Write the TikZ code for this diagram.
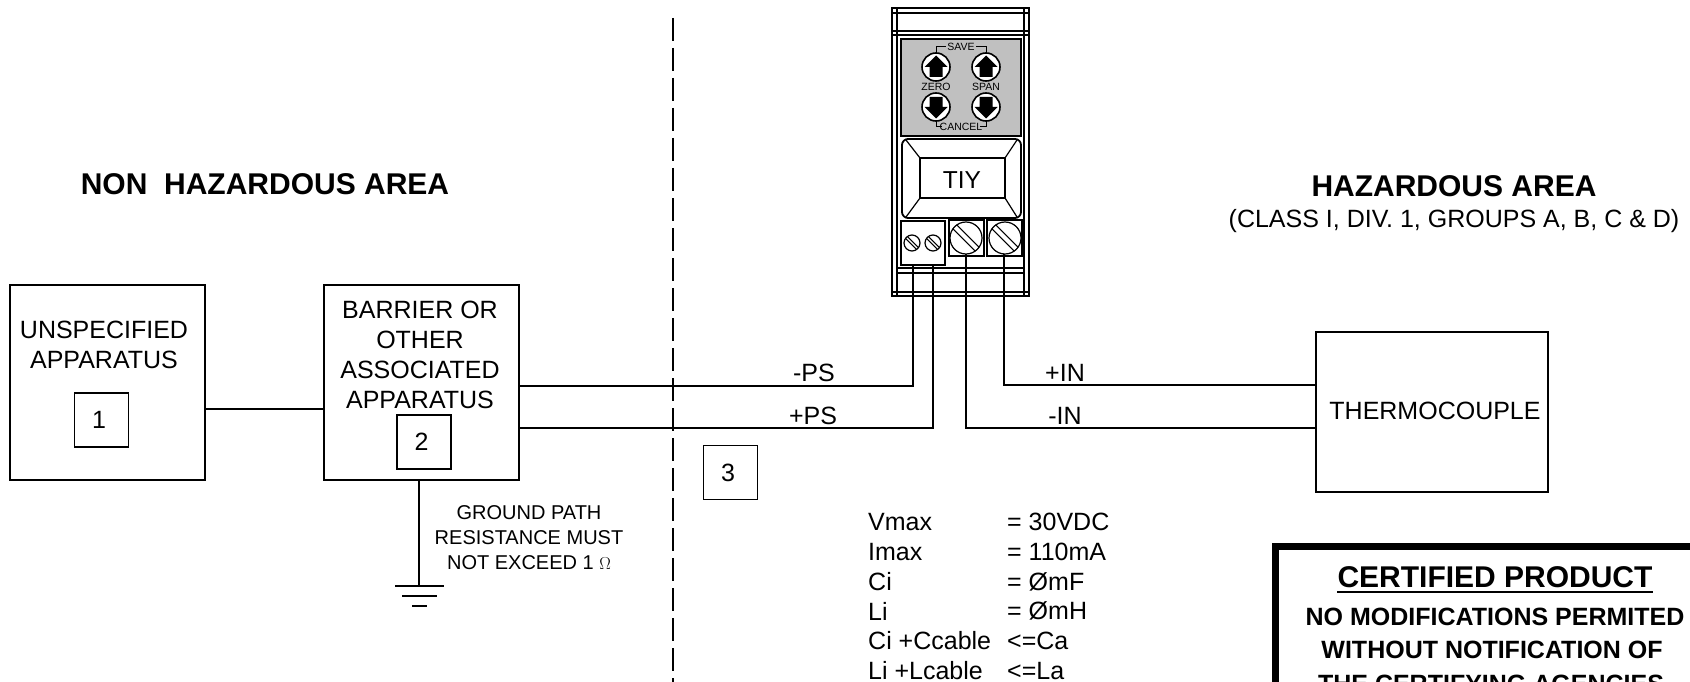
\documentclass[tikz,border=0pt]{standalone}
\usepackage{fontspec}
\setmainfont{Liberation Sans}
\definecolor{panelgray}{HTML}{C0C0C0}
\NewDocumentCommand{\DrawButton}{m m m}{%
    \def\ButtonX{#1}
    \def\ButtonY{#2}
    \def\ButtonDir{#3}
    %
    \begin{scope}[shift={(\ButtonX,\ButtonY)}, yscale=\ButtonDir]
        \draw [line width=1.6pt, fill=white] (0,0) circle (14);
        \fill [black] (0,-11.5) -- (11.5,0) -- (6.5,0) -- (6.5,10) -- (-6.5,10) -- (-6.5,0) -- (-11.5,0) -- cycle;
    \end{scope}
}
\NewDocumentCommand{\DrawScrew}{m m m}{%
    \def\ScrewX{#1}
    \def\ScrewY{#2}
    \def\ScrewR{#3}
    %
    \begin{scope}[shift={(\ScrewX,\ScrewY)}, scale=\ScrewR]
        \draw [line width=1.2pt] (0,0) circle (1);
        \draw [line width=1.1pt] (-0.58,-0.82) -- (0.82,0.58);
        \draw [line width=1.1pt] (-0.82,-0.58) -- (0.58,0.82);
    \end{scope}
}
\tikzset{
    plainbox/.style={draw, line width=1.5pt, inner sep=0pt},
    wire/.style={line width=1.8pt},
    unit/.style={line width=1.5pt},
    bodytext/.style={inner sep=0pt, align=center, font=\fontsize{25}{30}\selectfont},
    areatext/.style={inner sep=0pt, font=\fontsize{30}{32}\selectfont\bfseries},
    keytext/.style={inner sep=0pt, font=\fontsize{10.5}{12}\selectfont},
    groundtext/.style={inner sep=0pt, align=center, font=\fontsize{20}{25}\selectfont},
    spectext/.style={inner sep=0pt, anchor=west, font=\fontsize{25}{28}\selectfont},
    certtext/.style={inner sep=0pt, font=\fontsize{25}{30}\selectfont\bfseries},
}
\begin{document}
\begin{tikzpicture}[
    x={(1pt,0pt)}, y={(0pt,-1pt)}
    ]
    \useasboundingbox (0,0) rectangle (1690,682);

    % areas
    \node [areatext] (nonhaz) at (265,184) {NON\ \ HAZARDOUS AREA};
    \node [areatext] (haz) at (1454,186) {HAZARDOUS AREA};
    \node [bodytext] (hazclass) at (1454,221) {(CLASS I, DIV. 1, GROUPS A, B, C \& D)};
    \draw [wire, dash pattern=on 23pt off 7pt] (673,18) -- (673,682);

    % boxes
    \node [plainbox, minimum width=195, minimum height=195] (unspec) at (107.5,382.5) {};
    \node [plainbox, minimum width=195, minimum height=195] (barrier) at (421.5,382.5) {};
    \node [plainbox, minimum width=232, minimum height=160] (thermo) at (1432,412) {};
    \node [bodytext] (thermotext) at (1435,411) {THERMOCOUPLE};
    \node [bodytext] (unspectext) at (104,345) {UNSPECIFIED\\APPARATUS};
    \node [bodytext] (barriertext) at (420,355) {BARRIER OR\\OTHER\\ASSOCIATED\\APPARATUS};
    \node [plainbox, bodytext, minimum size=54] (numone) at (101.5,420) {1\hspace*{5pt}};
    \node [plainbox, bodytext, minimum size=54] (numtwo) at (424,442) {2\hspace*{5pt}};
    \node [plainbox, bodytext, minimum size=54] (numthree) at (730.5,472.5) {3\hspace*{5pt}};
    \draw [wire] (unspec.east |- 0,409) -- (barrier.west |- 0,409);

    % transmitter body
    \draw [unit] (892,8) rectangle (1029,296);
    \draw [unit] (897,8) -- (897,296) (1024,8) -- (1024,296);
    \draw [unit] (892,13) -- (1029,13) (892,31) -- (1029,31) (892,35) -- (1029,35);
    \draw [unit] (897,268) -- (1024,268) (897,273) -- (1024,273) (892,292) -- (1029,292);
    \draw [line width=2pt, fill=panelgray] (901,39) rectangle (1021,136);
    \draw [line width=1pt] (936,53) -- (936,47) -- (946,47) (976,47) -- (986,47) -- (986,53);
    \draw [line width=1pt] (936,121) -- (936,127) -- (942,127) (980,127) -- (986,127) -- (986,121);
    \node [keytext] (savekey) at (961,47) {SAVE};
    \node [keytext] (cancelkey) at (961,127) {CANCEL};
    \node [keytext] (zerokey) at (936,87) {ZERO};
    \node [keytext] (spankey) at (986,87) {SPAN};
    \DrawButton{936}{67}{1}
    \DrawButton{986}{67}{1}
    \DrawButton{936}{107}{-1}
    \DrawButton{986}{107}{-1}

    % display
    \draw [line width=1.8pt, rounded corners=6] (902,139) rectangle (1021,218);
    \draw [line width=1.2pt] (920,158) rectangle (1005,198);
    \draw [line width=1.2pt] (906,140) -- (920,158) (1017,140) -- (1005,158) (906,217) -- (920,198) (1017,217) -- (1005,198);
    \node [bodytext, font=\fontsize{24.5}{30}\selectfont] (tiy) at (962,180) {TIY};

    % terminals
    \draw [line width=1.8pt, fill=white] (901,221) rectangle (945,265);
    \draw [line width=1.8pt, fill=white] (949,220) rectangle (984,256);
    \draw [line width=1.8pt, fill=white] (987,220) rectangle (1022,256);
    \DrawScrew{912}{243}{8}
    \DrawScrew{933}{243}{8}
    \DrawScrew{966}{238}{16}
    \DrawScrew{1005}{238}{16}
    \coordinate (minusps) at (913,265);
    \coordinate (plusps) at (933,265);
    \coordinate (minusin) at (966,254);
    \coordinate (plusin) at (1004,254);

    % wires
    \draw [wire] (barrier.east |- 0,386) -| (minusps);
    \draw [wire] (barrier.east |- 0,428) -| (plusps);
    \draw [wire] (thermo.west |- 0,385) -| (plusin);
    \draw [wire] (thermo.west |- 0,428) -| (minusin);
    \node [bodytext] (labminusps) at (814,373) {-PS};
    \node [bodytext] (labplusps) at (813,416) {+PS};
    \node [bodytext] (labplusin) at (1065,373) {+IN};
    \node [bodytext] (labminusin) at (1065,416) {-IN};

    % ground
    \coordinate (gnd) at (419,585);
    \draw [wire] (gnd |- barrier.south) -- (gnd);
    \draw [wire] (395,586) -- (444,586) (402,596) -- (437,596) (412,606) -- (427,606);
    \node [groundtext] (gndtext) at (529,538) {GROUND PATH\\RESISTANCE MUST\\NOT EXCEED 1 \fontsize{18}{25}\selectfont$\Omega$};

    % entity values
    \foreach \name/\val/\ypos in {Vmax/= 30VDC/522, Imax/= 110mA/552, Ci/= ØmF/582, Li/= ØmH/611, Ci +Ccable/<=Ca/641, Li +Lcable/<=La/671}{
        \node [spectext] at (868,\ypos) {\name};
        \node [spectext] at (1007,\ypos) {\val};
    }

    % certified
    \draw [line width=7pt] (1275.5,700) -- (1275.5,546.5) -- (1700,546.5);
    \node [certtext, font=\fontsize{30}{32}\selectfont\bfseries] (certhead) at (1495,577) {CERTIFIED PRODUCT};
    \draw [line width=1.5pt] (certhead.west |- 0,592) -- (certhead.east |- 0,592);
    \node [certtext] (certone) at (1495,617) {NO MODIFICATIONS PERMITED};
    \node [certtext] (certtwo) at (1492,650) {WITHOUT NOTIFICATION OF};
    \node [certtext] (certthree) at (1491,684) {THE CERTIFYING AGENCIES};

\end{tikzpicture}
\end{document}
